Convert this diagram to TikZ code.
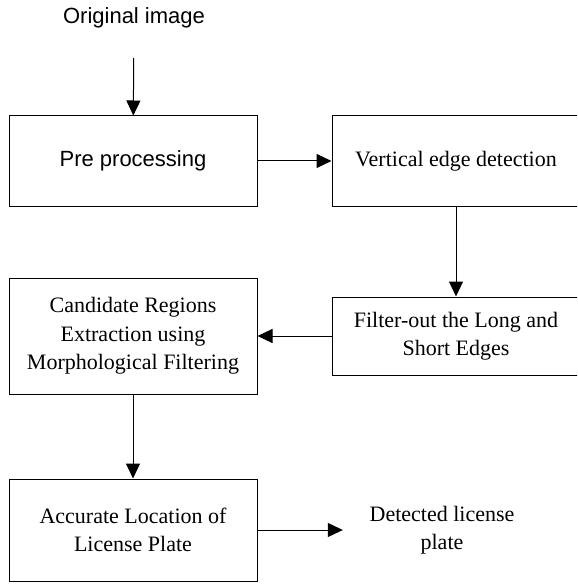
\documentclass[tikz,border=0pt]{standalone}
\usepackage{fontspec}
\setmainfont{Liberation Serif}
\setsansfont{Liberation Sans}
\usetikzlibrary{arrows.meta}
\usetikzlibrary{shapes}

\begin{document}
\begin{tikzpicture}[x=1pt, y=-1pt,
    stage/.style={draw, line width=1pt, minimum width=248pt, inner sep=0pt,
      align=center, font=\fontsize{22}{28.5}\selectfont},
    flow/.style={line width=1pt, -{Triangle[length=15pt, width=14pt]}}]
    \clip (0, 0) rectangle (577, 585);
    % Input and Output
    \node[inner sep=0pt, font=\sffamily\fontsize{22}{28.5}\selectfont] (orig) at (134, 17.5) {Original image};
    \node[inner xsep=26.6pt, inner ysep=0pt, align=center,
      font=\fontsize{22}{28.5}\selectfont] (plate) at (442, 530) {Detected license\\plate};
    % Processing Stages
    \node[stage, minimum height=90pt, font=\sffamily\fontsize{22}{28.5}\selectfont] (pre) at (133, 161) {Pre processing};
    \node[stage, minimum height=90pt] (vedge) at (456, 161) {Vertical edge detection};
    \node[stage, minimum height=78pt] (filt) at (456, 336) {Filter-out the Long and\\Short Edges};
    \node[stage, minimum height=116pt] (cand) at (133, 336) {Candidate Regions\\Extraction using\\Morphological Filtering};
    \node[stage, minimum height=102pt] (acc) at (133, 530) {Accurate Location of\\License Plate};
    %
    % Flow Edges:
    \draw[flow, shorten <=30pt] (orig) -- (pre);
    \draw[flow] (pre) -- (vedge);
    \draw[flow] (vedge) -- (filt);
    \draw[flow] (filt) -- (cand);
    \draw[flow] (cand) -- (acc);
    \draw[flow] (acc) -- (plate);
\end{tikzpicture}
\end{document}
